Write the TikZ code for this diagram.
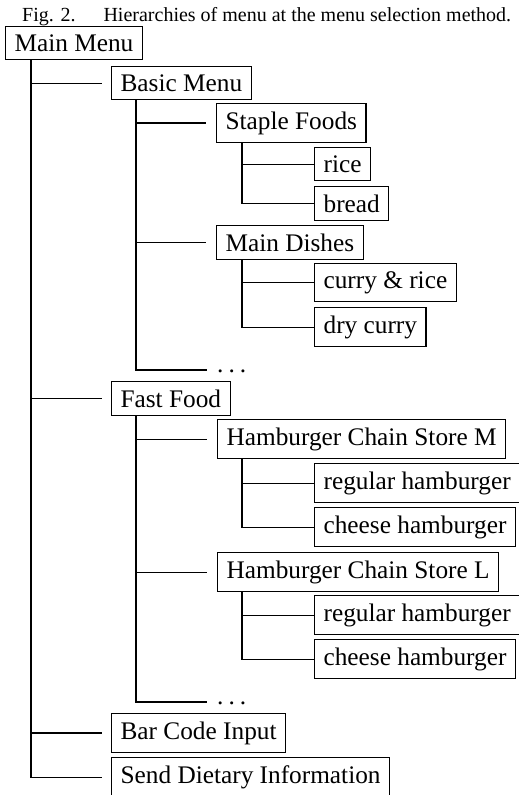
\documentclass[tikz,border=0pt]{standalone}
\usepackage{fontspec}
\setmainfont{Liberation Serif}
\begin{document}
\begin{tikzpicture}[x=1pt,y=-1pt,
  menubox/.style={draw, line width=1.2pt, anchor=north west, inner xsep=9pt, inner ysep=8pt,
    font=\fontsize{25.3}{30}\selectfont},
  conn/.style={line width=1.2pt},
  dotsnode/.style={anchor=base west, inner sep=0pt, font=\fontsize{25.3}{30}\selectfont}]
\useasboundingbox (0,0) rectangle (519,795);
\node[anchor=base west, inner sep=0pt, font=\fontsize{20}{24}\selectfont] (title) at (22,21)
  {Fig. 2.\hspace{28pt}Hierarchies of menu at the menu selection method.};
\node[menubox] (mm) at (5,26) {Main Menu};
\node[menubox] (bm) at (111,66) {Basic Menu};
\node[menubox] (sf) at (216,103) {Staple Foods};
\node[menubox] (rice) at (314,147) {rice};
\node[menubox] (bread) at (314,186) {bread};
\node[menubox] (md) at (216,225) {Main Dishes};
\node[menubox] (cr) at (314,263) {curry \& rice};
\node[menubox] (dc) at (314,307) {dry curry};
\node[dotsnode] (dots1) at (217,372) {.\hspace{0.2em}.\hspace{0.2em}.};
\coordinate (d1) at (207,370);
\node[menubox] (ff) at (111,381) {Fast Food};
\node[menubox] (hm) at (217,419) {Hamburger Chain Store M};
\node[menubox] (rh1) at (314,463) {regular hamburger};
\node[menubox] (ch1) at (314,507) {cheese hamburger};
\node[menubox] (hl) at (217,552) {Hamburger Chain Store L};
\node[menubox] (rh2) at (314,595) {regular hamburger};
\node[menubox] (ch2) at (314,639) {cheese hamburger};
\node[dotsnode] (dots2) at (217,704) {.\hspace{0.2em}.\hspace{0.2em}.};
\coordinate (d2) at (207,702);
\node[menubox] (bc) at (111,713) {Bar Code Input};
\node[menubox] (sd) at (111,757) {Send Dietary Information};
% level 1
\foreach \c in {bm,ff,bc,sd}
  \draw[conn] ([xshift=26pt]mm.south west) |- ([xshift=-9pt]\c.west);
% level 2 under Basic Menu
\foreach \c in {sf,md}
  \draw[conn] ([xshift=25pt]bm.south west) |- ([xshift=-10pt]\c.west);
\draw[conn] ([xshift=25pt]bm.south west) |- (d1);
% level 2 under Fast Food
\foreach \c in {hm,hl}
  \draw[conn] ([xshift=25pt]ff.south west) |- ([xshift=-10pt]\c.west);
\draw[conn] ([xshift=25pt]ff.south west) |- (d2);
% level 3
\foreach \c in {rice,bread}
  \draw[conn] ([xshift=26pt]sf.south west) |- (\c.west);
\foreach \c in {cr,dc}
  \draw[conn] ([xshift=26pt]md.south west) |- (\c.west);
\foreach \c in {rh1,ch1}
  \draw[conn] ([xshift=25pt]hm.south west) |- (\c.west);
\foreach \c in {rh2,ch2}
  \draw[conn] ([xshift=25pt]hl.south west) |- (\c.west);
\end{tikzpicture}
\end{document}
